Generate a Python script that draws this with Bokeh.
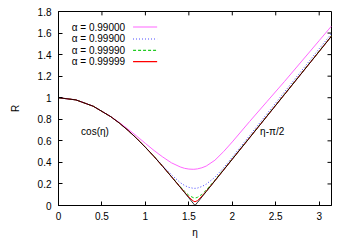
from bokeh.plotting import figure
from bokeh.models import Range1d, FixedTicker, Label
from bokeh.embed import file_html
from bokeh.resources import INLINE

# sampled abscissa (eta)
eta = [0.0, 0.2, 0.4, 0.6, 0.7, 0.8, 0.9, 1.0, 1.1, 1.2, 1.3, 1.4, 1.45, 1.5, 1.55,
       1.5708, 1.6, 1.65, 1.7, 1.8, 1.9, 2.0, 2.2, 2.4, 2.6, 2.8, 3.0, 3.1416]

# reference curve: cos(eta) then eta - pi/2
r_ref = [1.0, 0.980, 0.921, 0.825, 0.765, 0.697, 0.622, 0.540, 0.454, 0.362, 0.267, 0.170,
         0.121, 0.071, 0.021, 0.0, 0.029, 0.079, 0.129, 0.229, 0.329, 0.429, 0.629, 0.829,
         1.029, 1.229, 1.429, 1.571]

r_99000 = [1.0, 0.980, 0.921, 0.826, 0.770, 0.708, 0.644, 0.576, 0.510, 0.450, 0.396, 0.358,
           0.345, 0.338, 0.336, 0.337, 0.340, 0.350, 0.366, 0.420, 0.500, 0.590, 0.780, 0.965,
           1.150, 1.340, 1.530, 1.665]
r_99900 = [1.0, 0.980, 0.921, 0.825, 0.765, 0.697, 0.622, 0.541, 0.456, 0.368, 0.285, 0.213,
           0.186, 0.168, 0.160, 0.159, 0.162, 0.176, 0.198, 0.262, 0.350, 0.448, 0.650, 0.852,
           1.053, 1.254, 1.455, 1.595]
r_99990 = [1.0, 0.980, 0.921, 0.825, 0.765, 0.697, 0.622, 0.540, 0.454, 0.362, 0.268, 0.176,
           0.132, 0.094, 0.073, 0.069, 0.076, 0.103, 0.143, 0.236, 0.334, 0.433, 0.633, 0.833,
           1.033, 1.233, 1.433, 1.575]
r_99999 = [1.0, 0.980, 0.921, 0.825, 0.765, 0.697, 0.622, 0.540, 0.454, 0.362, 0.267, 0.171,
           0.123, 0.078, 0.042, 0.035, 0.045, 0.087, 0.132, 0.230, 0.330, 0.430, 0.630, 0.830,
           1.030, 1.230, 1.430, 1.572]

labels = ["\u03b1 = 0.99000", "\u03b1 = 0.99900", "\u03b1 = 0.99990", "\u03b1 = 0.99999"]
x_ticks = [0, 0.5, 1, 1.5, 2, 2.5, 3]
y_ticks = [0, 0.2, 0.4, 0.6, 0.8, 1, 1.2, 1.4, 1.6, 1.8]

FONT = "Liberation Sans"
X0, X1, Y0, Y1 = 0.0, 3.1416, 0.0, 1.8
BL, BR, BT, BB = 58, 12, 11, 29
FW, FH = 273, 200

p = figure(output_backend="svg", toolbar_location=None,
           width=BL + FW + BR, height=BT + FH + BB,
           min_border_left=BL, min_border_right=BR, min_border_top=BT, min_border_bottom=BB,
           x_range=Range1d(X0, X1), y_range=Range1d(Y0, Y1),
           x_axis_label="\u03b7", y_axis_label="R")
p.background_fill_color = "white"
p.border_fill_color = "white"
p.grid.visible = False
p.outline_line_color = "black"
p.outline_line_width = 1

for ax, ticks in ((p.xaxis[0], x_ticks), (p.yaxis[0], y_ticks)):
    ax.ticker = FixedTicker(ticks=ticks)
    ax.major_tick_in = 4
    ax.major_tick_out = 0
    ax.minor_tick_line_color = None
    ax.axis_line_color = "black"
    ax.major_tick_line_color = "black"
    ax.major_label_text_font = FONT
    ax.major_label_text_font_size = "10px"
    ax.major_label_text_color = "black"
    ax.axis_label_text_font = FONT
    ax.axis_label_text_font_size = "10px"
    ax.axis_label_text_font_style = "normal"
    ax.axis_label_text_color = "black"
p.xaxis[0].major_label_standoff = 6
p.xaxis[0].axis_label_standoff = 4
p.yaxis[0].major_label_standoff = 7
p.yaxis[0].axis_label_standoff = 14
p.xaxis[0].major_label_overrides = {0: "0", 1: "1", 2: "2", 3: "3"}
p.yaxis[0].major_label_overrides = {0: "0", 1: "1"}

# mirrored inward ticks on top and right (gnuplot style)
tx = 4 * (X1 - X0) / FW
ty = 4 * (Y1 - Y0) / FH
p.segment(x0=x_ticks, y0=[Y1] * len(x_ticks), x1=x_ticks, y1=[Y1 - ty] * len(x_ticks),
          line_color="black", line_width=1)
p.segment(x0=[X1] * len(y_ticks), y0=y_ticks, x1=[X1 - tx] * len(y_ticks), y1=y_ticks,
          line_color="black", line_width=1)

series = [
    (r_99000, "#ff66ff", "solid"),
    (r_99900, "#4444ff", "1 2"),
    (r_99990, "#22cc22", "3 2"),
    (r_99999, "#ff0000", "solid"),
]
for ys, col, dash in series:
    p.line(eta, ys, line_color=col, line_width=1, line_dash=dash)
p.line(eta, r_ref, line_color="black", line_width=1, line_alpha=0.85)

# legend (gnuplot style: text then sample line)
leg_y = [1.656, 1.545, 1.44, 1.335]
for (ys, col, dash), lab, yy in zip(series, labels, leg_y):
    p.add_layout(Label(x=0.766, y=yy, text=lab, text_align="right", text_baseline="middle",
                       text_font=FONT, text_font_size="10px", text_color="black"))
    p.segment(x0=[0.858], y0=[yy], x1=[1.135], y1=[yy],
              line_color=col, line_width=1.2, line_dash=dash)

p.add_layout(Label(x=0.26, y=0.684, text="cos(\u03b7)", text_baseline="middle",
                   text_font=FONT, text_font_size="10px", text_color="black"))
p.add_layout(Label(x=2.32, y=0.684, text="\u03b7-\u03c0/2", text_baseline="middle",
                   text_font=FONT, text_font_size="10px", text_color="black"))

open("out.html", "w").write(file_html(p, INLINE))
